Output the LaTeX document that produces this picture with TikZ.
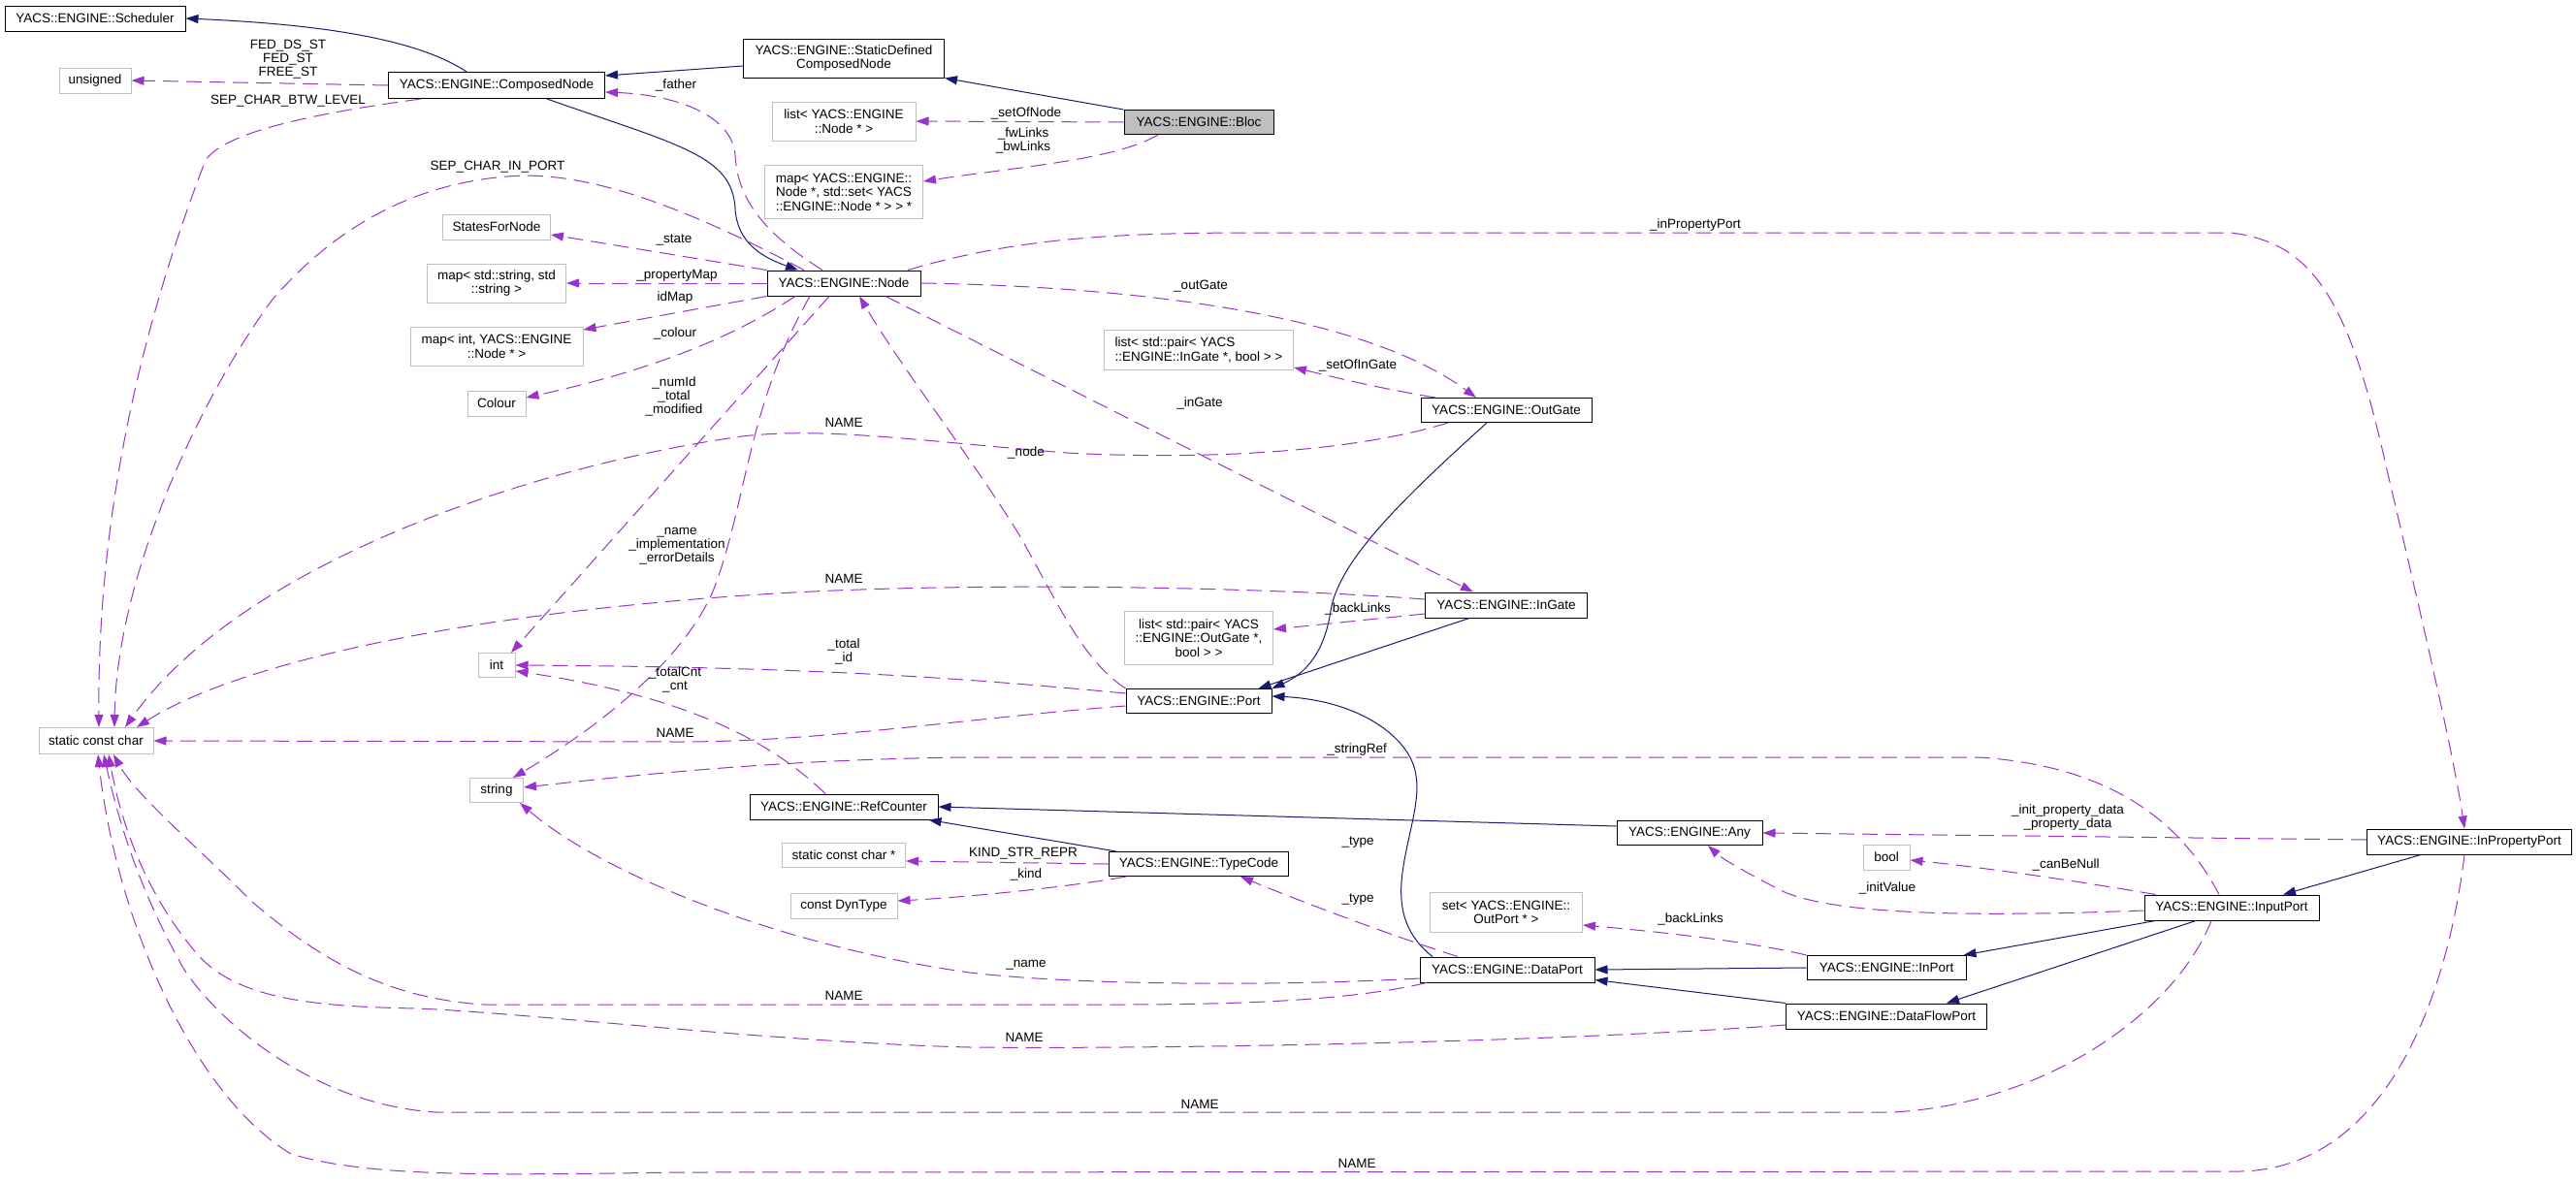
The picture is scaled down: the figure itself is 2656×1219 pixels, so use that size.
\documentclass[tikz,border=0pt]{standalone}
\usepackage{fontspec}
\setmainfont{Liberation Sans}
\usetikzlibrary{arrows.meta}
\definecolor{navy}{RGB}{25,25,112}
\definecolor{orch}{RGB}{154,50,205}
\definecolor{gbord}{RGB}{191,191,191}
\begin{document}
\begin{tikzpicture}[x=1pt,y=-1pt,
  every node/.style={font=\fontsize{13.5}{14.5}\selectfont, inner sep=0pt},
  cls/.style={draw=black, line width=1pt, align=center, fill=white},
  ext/.style={draw=gbord, line width=1pt, align=center, fill=white},
  inh/.style={draw=navy, line width=1pt, -{Triangle[length=13pt,width=9pt]}},
  use/.style={draw=orch, line width=1pt, dash pattern=on 16pt off 8pt, -{Triangle[length=13pt,width=9pt]}},
  lbl/.style={align=center, font=\fontsize{13.5}{14}\selectfont}
]
\fill[white] (0,0) rectangle (2656,1219);
\useasboundingbox (0,0) rectangle (2656,1219);

% ---------- nodes ----------
\node[cls, minimum width=186pt, minimum height=26pt] (sched) at (98,19) {YACS::ENGINE::Scheduler};
\node[cls, minimum width=223pt, minimum height=27pt] (composed) at (512,88) {YACS::ENGINE::ComposedNode};
\node[cls, minimum width=207pt, minimum height=40pt] (sdcn) at (870,60) {YACS::ENGINE::StaticDefined\\ComposedNode};
\node[cls, fill=gbord, minimum width=154pt, minimum height=25pt] (bloc) at (1236,126) {YACS::ENGINE::Bloc};
\node[ext, minimum width=74pt, minimum height=26pt] (unsigned) at (98,83) {unsigned};
\node[ext, minimum width=148pt, minimum height=40pt] (listnode) at (870,125) {list< YACS::ENGINE\\::Node * >};
\node[ext, minimum width=163pt, minimum height=55pt] (mapnodeset) at (870,198) {map< YACS::ENGINE::\\Node *, std::set< YACS\\::ENGINE::Node * > > *};
\node[ext, minimum width=111pt, minimum height=26pt] (states) at (512,234) {StatesForNode};
\node[ext, minimum width=143pt, minimum height=40pt] (mapstr) at (512,292) {map< std::string, std\\::string >};
\node[cls, minimum width=158pt, minimum height=26pt] (node) at (870,292) {YACS::ENGINE::Node};
\node[ext, minimum width=178pt, minimum height=40pt] (mapint) at (512,357) {map< int, YACS::ENGINE\\::Node * >};
\node[ext, minimum width=60pt, minimum height=26pt] (colour) at (512,416) {Colour};
\node[ext, align=left, minimum width=195pt, minimum height=41pt] (listingate) at (1236,361) {list< std::pair< YACS\\::ENGINE::InGate *, bool > >};
\node[cls, minimum width=176pt, minimum height=25pt] (outgate) at (1553,423) {YACS::ENGINE::OutGate};
\node[ext, minimum width=118pt, minimum height=27pt] (scc) at (99,764) {static const char};
\node[ext, minimum width=38pt, minimum height=25pt] (int) at (512,686) {int};
\node[cls, minimum width=167pt, minimum height=26pt] (ingate) at (1553,624) {YACS::ENGINE::InGate};
\node[ext, minimum width=153pt, minimum height=55pt] (listoutgate) at (1236,658) {list< std::pair< YACS\\::ENGINE::OutGate *,\\bool > >};
\node[cls, minimum width=150pt, minimum height=25pt] (port) at (1236,723) {YACS::ENGINE::Port};
\node[ext, minimum width=55pt, minimum height=25pt] (string) at (512,815) {string};
\node[cls, minimum width=194pt, minimum height=26pt] (refcounter) at (870,832) {YACS::ENGINE::RefCounter};
\node[ext, minimum width=127pt, minimum height=25pt] (scca) at (870,882) {static const char *};
\node[cls, minimum width=185pt, minimum height=25pt] (typecode) at (1236,891) {YACS::ENGINE::TypeCode};
\node[ext, minimum width=110pt, minimum height=26pt] (dyntype) at (870,934) {const DynType};
\node[cls, minimum width=150pt, minimum height=25pt] (any) at (1742,859) {YACS::ENGINE::Any};
\node[ext, minimum width=48pt, minimum height=26pt] (bool) at (1945,884) {bool};
\node[cls, minimum width=211pt, minimum height=26pt] (inprop) at (2546,868) {YACS::ENGINE::InPropertyPort};
\node[cls, minimum width=180pt, minimum height=26pt] (inputport) at (2301,936) {YACS::ENGINE::InputPort};
\node[ext, minimum width=157pt, minimum height=41pt] (setoutport) at (1553,941) {set< YACS::ENGINE::\\OutPort * >};
\node[cls, minimum width=164pt, minimum height=25pt] (inport) at (1945,998) {YACS::ENGINE::InPort};
\node[cls, minimum width=180pt, minimum height=26pt] (dataport) at (1554,1000) {YACS::ENGINE::DataPort};
\node[cls, minimum width=207pt, minimum height=26pt] (dataflow) at (1945,1048) {YACS::ENGINE::DataFlowPort};

% ---------- inheritance ----------
\draw[inh] ([xshift=-31pt]composed.north) .. controls (430,40) and (330,25) .. (sched.east);
\draw[inh] ([yshift=-8pt]sdcn.west) -- ([yshift=10pt]composed.east);
\draw[inh] (bloc.north west) -- (sdcn.south east);
\draw[inh] ([xshift=52pt]composed.south) .. controls (700,150) and (755,160) .. (758,215) .. controls (760,250) and (785,265) .. ([xshift=-47pt]node.north);
\draw[inh] ([xshift=-20pt]outgate.south) .. controls (1440,520) and (1380,580) .. (1372,630) .. controls (1365,675) and (1345,695) .. (port.north east);
\draw[inh] ([xshift=-38pt]ingate.south) -- ([xshift=-14pt]port.north east);
\draw[inh] ([xshift=-77pt]dataport.north) .. controls (1450,965) and (1443,940) .. (1445,910) .. controls (1448,870) and (1465,830) .. (1460,800) .. controls (1455,760) and (1400,722) .. ([yshift=5pt]port.east);
\draw[inh] ([yshift=7pt]any.west) -- (refcounter.east);
\draw[inh] ([xshift=8pt]typecode.north west) -- ([xshift=-10pt]refcounter.south east);
\draw[inh] (inport.west) -- (dataport.east);
\draw[inh] (dataflow.north west) -- ([yshift=3pt]dataport.south east);
\draw[inh] ([xshift=12pt]inputport.south west) -- ([xshift=-3pt]inport.north east);
\draw[inh] ([xshift=-37pt]inputport.south) -- ([xshift=62pt]dataflow.north);
\draw[inh] ([xshift=-50pt]inprop.south) -- ([xshift=53pt]inputport.north);

% ---------- usage ----------
\draw[use] (composed.west) -- (unsigned.east);
\draw[use] ([xshift=-78pt]composed.south) .. controls (300,120) and (230,140) .. (212,165) .. controls (160,300) and (100,500) .. ([xshift=3pt]scc.north);
\draw[use] ([xshift=-22pt]node.north) .. controls (770,230) and (760,190) .. (758,160) .. controls (755,120) and (700,98) .. ([yshift=-7pt]composed.east);
\draw[use] (bloc.west) -- (listnode.east);
\draw[use] ([xshift=-42pt]bloc.south) .. controls (1150,165) and (1050,172) .. ([yshift=11pt]mapnodeset.east);
\draw[use] ([xshift=-41pt]node.north) .. controls (700,210) and (600,175) .. (523,182) .. controls (420,190) and (340,240) .. (280,310) .. controls (200,420) and (120,600) .. ([xshift=19pt]scc.north);
\draw[use] (node.north west) -- ([yshift=-8pt]states.east);
\draw[use] (node.west) -- (mapstr.east);
\draw[use] (node.south west) -- ([yshift=17pt]mapint.east);
\draw[use] ([xshift=-50pt]node.south) .. controls (760,345) and (680,380) .. ([yshift=6pt]colour.east);
\draw[use] ([xshift=-15pt]node.south) -- ([xshift=15pt]int.north);
\draw[use] ([xshift=-35pt]node.south) .. controls (770,420) and (770,520) .. (735,610) .. controls (700,690) and (600,760) .. ([xshift=17pt]string.north);
\draw[use] (node.east) .. controls (1150,295) and (1400,320) .. ([xshift=-31pt]outgate.north);
\draw[use] ([xshift=43pt]node.south) -- ([xshift=-34pt]ingate.north);
\draw[use] ([xshift=66pt]node.north) .. controls (1050,245) and (1150,240) .. (1300,240) -- (2300,240) .. controls (2380,250) and (2420,300) .. (2460,480) .. controls (2500,650) and (2530,780) .. ([xshift=-5pt]inprop.north);
\draw[use] ([xshift=-73pt]outgate.north) .. controls (1420,400) and (1380,390) .. ([yshift=-18pt]listingate.east);
\draw[use] (port.north west) .. controls (1115,680) and (1090,620) .. (1050,550) .. controls (1000,470) and (930,380) .. ([xshift=16pt]node.south);
\draw[use] ([xshift=-60pt]outgate.south) .. controls (1400,465) and (1250,475) .. (1100,467) .. controls (950,455) and (850,440) .. (765,450) .. controls (550,480) and (250,580) .. ([xshift=30pt]scc.north);
\draw[use] ([yshift=6pt]ingate.west) .. controls (1300,605) and (1000,600) .. (800,612) .. controls (500,630) and (250,680) .. ([xshift=42pt]scc.north);
\draw[use] ([yshift=-9pt]ingate.west) -- ([yshift=9pt]listoutgate.east);
\draw[use] ([yshift=8pt]port.west) .. controls (1000,700) and (850,688) .. (int.east);
\draw[use] ([yshift=-5pt]port.west) .. controls (1000,740) and (850,765) .. (700,765) -- (scc.east);
\draw[use] ([xshift=-19pt]refcounter.north) .. controls (800,770) and (720,720) .. ([yshift=-6pt]int.east);
\draw[use] ([xshift=-13pt]inputport.north) .. controls (2250,850) and (2180,790) .. (2040,781) -- (1000,781) .. controls (800,783) and (650,800) .. ([yshift=3pt]string.east);
\draw[use] (typecode.west) -- ([yshift=-6pt]scca.east);
\draw[use] ([xshift=-75pt]typecode.south) .. controls (1100,915) and (1000,925) .. ([yshift=5pt]dyntype.east);
\draw[use] ([xshift=-51pt]dataport.north) .. controls (1420,960) and (1330,925) .. ([xshift=43pt]typecode.south);
\draw[use] ([yshift=-9pt]dataport.west) .. controls (1300,1018) and (1100,1015) .. (1000,1003) .. controls (800,975) and (620,900) .. ([xshift=24pt]string.south);
\draw[use] ([xshift=-83pt]dataport.south) .. controls (1400,1030) and (1300,1036) .. (1150,1036) -- (500,1036) .. controls (400,1030) and (330,990) .. (260,930) .. controls (200,870) and (140,820) .. ([xshift=18pt]scc.south);
\draw[use] (inport.north west) .. controls (1800,970) and (1700,960) .. ([yshift=-13pt]setoutport.east);
\draw[use] ([yshift=-9pt]dataflow.west) .. controls (1600,1075) and (1200,1082) .. (1000,1080) .. controls (800,1075) and (550,1045) .. (430,1040) .. controls (320,1038) and (240,1030) .. (200,980) .. controls (150,920) and (125,850) .. ([xshift=13pt]scc.south);
\draw[use] ([xshift=12pt]inputport.north west) .. controls (2150,910) and (2050,895) .. ([yshift=-3pt]bool.east);
\draw[use] ([yshift=-3pt]inputport.west) .. controls (2050,945) and (1900,945) .. (1840,920) .. controls (1800,900) and (1775,885) .. ([xshift=19pt]any.south);
\draw[use] ([xshift=-21pt]inputport.south) .. controls (2240,1050) and (2100,1140) .. (1950,1147) -- (450,1147) .. controls (330,1140) and (230,1060) .. (190,1000) .. controls (150,930) and (125,860) .. ([xshift=8pt]scc.south);
\draw[use] ([yshift=2pt]inprop.west) -- (any.east);
\draw[use] ([xshift=-5pt]inprop.south) .. controls (2520,1050) and (2450,1205) .. (2310,1208) -- (700,1209) .. controls (500,1212) and (380,1214) .. (300,1190) .. controls (200,1130) and (120,950) .. ([xshift=2pt]scc.south);

% ---------- labels ----------
\node[lbl] (l1) at (297,61) {FED\_DS\_ST\\FED\_ST\\FREE\_ST};
\node[lbl] (l2) at (297,104) {SEP\_CHAR\_BTW\_LEVEL};
\node[lbl] (l3) at (697,88) {\_father};
\node[lbl] (l4) at (513,172) {SEP\_CHAR\_IN\_PORT};
\node[lbl] (l5) at (695,247) {\_state};
\node[lbl] (l6) at (698,284) {\_propertyMap};
\node[lbl] (l7) at (696,307) {idMap};
\node[lbl] (l8) at (1058,117) {\_setOfNode};
\node[lbl] (l9) at (1055,145) {\_fwLinks\\\_bwLinks};
\node[lbl] (l10) at (696,344) {\_colour};
\node[lbl] (l11) at (695,409) {\_numId\\\_total\\\_modified};
\node[lbl] (l12) at (870,436) {NAME};
\node[lbl] (l13) at (1238,295) {\_outGate};
\node[lbl] (l14) at (1748,232) {\_inPropertyPort};
\node[lbl] (l15) at (1400,377) {\_setOfInGate};
\node[lbl] (l16) at (1237,416) {\_inGate};
\node[lbl] (l17) at (1058,467) {\_node};
\node[lbl] (l18) at (698,563) {\_name\\\_implementation\\\_errorDetails};
\node[lbl] (l19) at (870,597) {NAME};
\node[lbl] (l20) at (1400,628) {\_backLinks};
\node[lbl] (l21) at (870,672) {\_total\\\_id};
\node[lbl] (l22) at (696,701) {\_totalCnt\\\_cnt};
\node[lbl] (l23) at (696,756) {NAME};
\node[lbl] (l24) at (1399,773) {\_stringRef};
\node[lbl] (l25) at (2132,843) {\_init\_property\_data\\\_property\_data};
\node[lbl] (l26) at (1400,869) {\_type};
\node[lbl] (l27) at (1055,880) {KIND\_STR\_REPR};
\node[lbl] (l28) at (2130,892) {\_canBeNull};
\node[lbl] (l29) at (1058,902) {\_kind};
\node[lbl] (l30) at (1946,916) {\_initValue};
\node[lbl] (l31) at (1400,928) {\_type};
\node[lbl] (l32) at (1743,948) {\_backLinks};
\node[lbl] (l33) at (1058,995) {\_name};
\node[lbl] (l34) at (870,1027) {NAME};
\node[lbl] (l35) at (1056,1070) {NAME};
\node[lbl] (l36) at (1237,1139) {NAME};
\node[lbl] (l37) at (1399,1200) {NAME};
\end{tikzpicture}
\end{document}
